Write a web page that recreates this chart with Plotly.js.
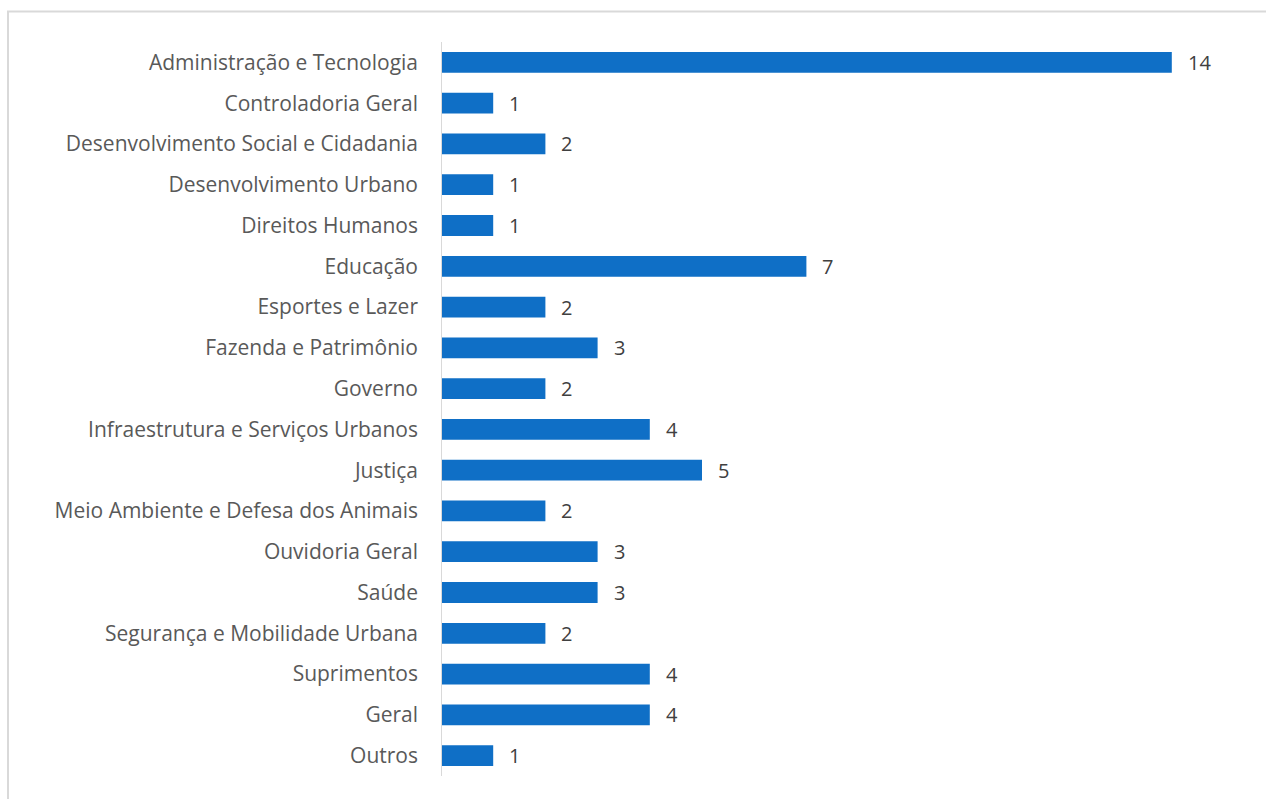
<!DOCTYPE html>
<html><head><meta charset="utf-8">
<script src="https://cdn.plot.ly/plotly-3.0.1.min.js"></script>
<style>html,body{margin:0;padding:0;background:#fff;overflow:hidden}#c{width:1266px;height:799px}</style>
</head><body><div id="c"></div>
<script>
const categories = ["Administração e Tecnologia","Controladoria Geral","Desenvolvimento Social e Cidadania","Desenvolvimento Urbano","Direitos Humanos","Educação","Esportes e Lazer","Fazenda e Patrimônio","Governo","Infraestrutura e Serviços Urbanos","Justiça","Meio Ambiente e Defesa dos Animais","Ouvidoria Geral","Saúde","Segurança e Mobilidade Urbana","Suprimentos","Geral","Outros"];
const values = [14,1,2,1,1,7,2,3,2,4,5,2,3,3,2,4,4,1];

const W=1266,H=799,ml=441,mr=42,mt=41.6,mb=22.6;
const pw=W-ml-mr, ph=H-mt-mb;
const px=v=>(v-ml)/pw, py=v=>1-(v-mt)/ph;
const FONT='"Open Sans", sans-serif';

const trace={type:'bar',orientation:'h',y:categories,x:values,
  marker:{color:'#0F6FC6',line:{width:0}},hoverinfo:'none'};

const annotations=categories.map((c,i)=>({x:values[i],y:c,xref:'x',yref:'y',text:String(values[i]),
  showarrow:false,xanchor:'left',xshift:14,font:{family:FONT,size:20,color:'#404040'}}));

const layout={width:W,height:H,margin:{l:ml,r:mr,t:mt,b:mb,pad:0},
  paper_bgcolor:'#fff',plot_bgcolor:'#fff',showlegend:false,bargap:0.49,
  font:{family:FONT,size:21,color:'#595959'},
  xaxis:{range:[0,15],visible:false,fixedrange:true},
  yaxis:{type:'category',autorange:'reversed',showgrid:false,zeroline:false,ticks:'',
    ticklabelstandoff:22,tickfont:{family:FONT,size:21,color:'#595959'},fixedrange:true},
  annotations:annotations,
  shapes:[
    {type:'line',xref:'x',yref:'paper',x0:0,x1:0,y0:0,y1:1,line:{color:'#d9d9d9',width:2}},
    {type:'rect',xref:'paper',yref:'paper',x0:px(8),x1:px(1300),y0:py(11),y1:py(840),line:{color:'#d9d9d9',width:2},layer:'below'}
  ]};
Plotly.newPlot('c',[trace],layout,{staticPlot:true});
</script></body></html>
